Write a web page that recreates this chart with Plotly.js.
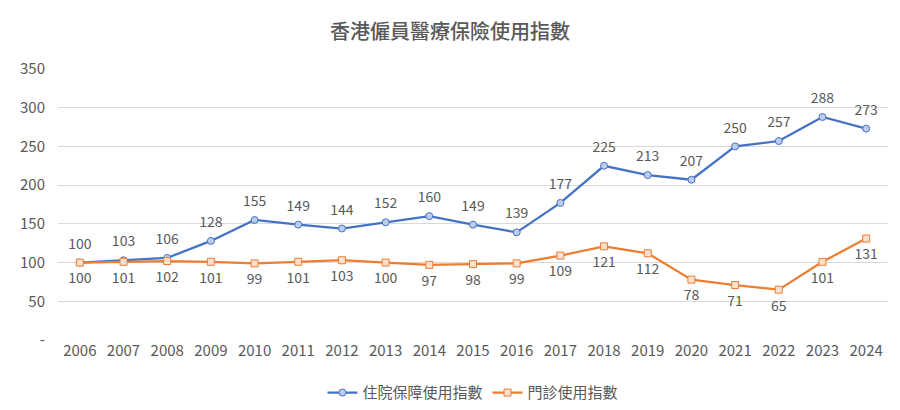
<!DOCTYPE html>
<html>
<head>
<meta charset="utf-8">
<script src="https://cdn.plot.ly/plotly-3.0.1.min.js"></script>
<style>html,body{margin:0;padding:0;background:#fff;}#chart{width:900px;height:410px;}</style>
</head>
<body>
<div id="chart"></div>
<script>
const years = ["2006","2007","2008","2009","2010","2011","2012","2013","2014","2015","2016","2017","2018","2019","2020","2021","2022","2023","2024"];
const inpatient = [100,103,106,128,155,149,144,152,160,149,139,177,225,213,207,250,257,288,273];
const outpatient = [100,101,102,101,99,101,103,100,97,98,99,109,121,112,78,71,65,101,131];
const seriesNames = ["住院保障使用指數","門診使用指數"];
const yTicks = [0,50,100,150,200,250,300,350];
const yTickText = ["-","50","100","150","200","250","300","350"];
const title = "香港僱員醫療保險使用指數";

const font = "Noto Sans CJK TC, Noto Sans, sans-serif";
const gray = "#595959";

function labelTrace(vals, pos) {
  return {
    x: years, y: vals, type: "scatter", mode: "markers+text", showlegend: false,
    hoverinfo: "skip",
    marker: {size: 15, opacity: 0},
    text: vals.map(String), textposition: pos,
    textfont: {family: font, size: 14, color: gray},
    cliponaxis: false
  };
}

const traces = [
  {
    x: years, y: inpatient, name: seriesNames[0], type: "scatter", mode: "lines+markers",
    line: {color: "#4472C4", width: 2.25},
    marker: {symbol: "circle", size: 7, color: "#BCCDEC", line: {color: "#4472C4", width: 1}},
    cliponaxis: false
  },
  {
    x: years, y: outpatient, name: seriesNames[1], type: "scatter", mode: "lines+markers",
    line: {color: "#ED7D31", width: 2.25},
    marker: {symbol: "square", size: 7, color: "#FBE0CF", line: {color: "#ED7D31", width: 1}},
    cliponaxis: false
  },
  labelTrace(inpatient, "top center"),
  labelTrace(outpatient, "bottom center")
];

const layout = {
  width: 900, height: 410,
  margin: {l: 58, r: 12, t: 69, b: 70, autoexpand: false},
  paper_bgcolor: "#fff", plot_bgcolor: "#fff",
  title: {text: title, x: 0.5, xanchor: "center", y: 0.922, yanchor: "middle",
          font: {family: font, size: 20, color: gray, weight: 500}},
  font: {family: font, color: gray},
  showlegend: true,
  legend: {orientation: "h", x: 0.5, xanchor: "center", y: -0.195, yanchor: "middle",
           font: {family: font, size: 15, color: gray}},
  xaxis: {type: "category", range: [-0.5, years.length - 0.5], autorange: false,
          showgrid: false, zeroline: false, showline: false,
          ticks: "", tickfont: {family: font, size: 15, color: gray}, fixedrange: true},
  yaxis: {range: [0, 350], tickvals: yTicks, ticktext: yTickText, showgrid: true,
          gridcolor: "#D9D9D9", gridwidth: 1, zeroline: false, showline: false, ticks: "",
          tickfont: {family: font, size: 15, color: gray}, ticklabelstandoff: 12, fixedrange: true}
};

Plotly.newPlot("chart", traces, layout, {displayModeBar: false, staticPlot: true});
</script>
</body>
</html>
